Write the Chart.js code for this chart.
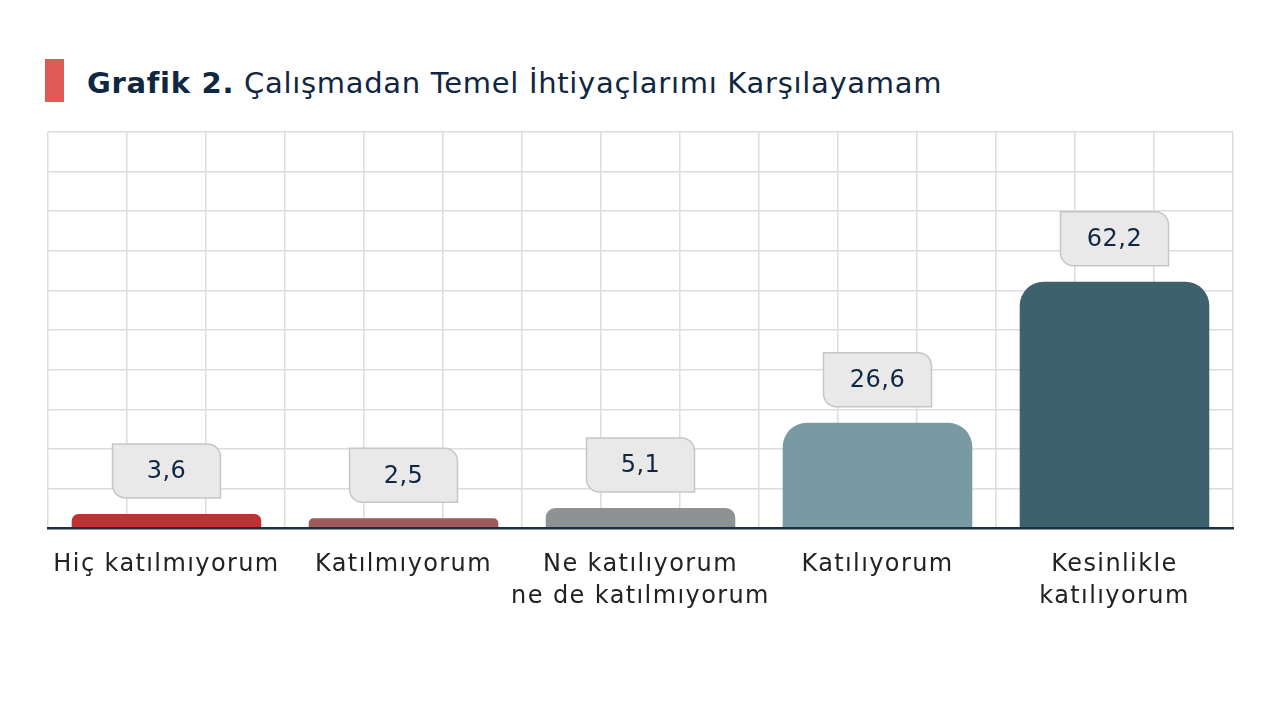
<!DOCTYPE html>
<html lang="tr">
<head>
<meta charset="utf-8">
<script src="https://cdn.jsdelivr.net/npm/chart.js@4.4.1/dist/chart.umd.min.js"></script>
<style>
   html, body { margin: 0; padding: 0; background: #ffffff; }
   #wrap { position: relative; width: 1280px; height: 720px; }
   #title {
      position: absolute; left: 87px; top: 66px;
      font-family: "DejaVu Sans", sans-serif; font-size: 29px; color: #0f2740;
      letter-spacing: 0.7px; white-space: nowrap;
   }
   #title b { font-weight: 700; }
   #mark { position: absolute; left: 45px; top: 59px; width: 19px; height: 43px; background: #e05a55; }
   canvas { position: absolute; left: 0; top: 0; }
</style>
</head>
<body>
<div id="wrap">
   <div id="mark"></div>
   <div id="title"><b>Grafik 2.</b> Çalışmadan Temel İhtiyaçlarımı Karşılayamam</div>
   <canvas id="chart" width="1280" height="720"></canvas>
</div>
<script>
const categories = [
   "Hiç katılmıyorum",
   "Katılmıyorum",
   ["Ne katılıyorum", "ne de katılmıyorum"],
   "Katılıyorum",
   ["Kesinlikle", "katılıyorum"],
];
const values = [3.6, 2.5, 5.1, 26.6, 62.2];
const barColors = ["#c03232", "#a05a5c", "#8f9192", "#799aa2", "#3e626d"];

const FONT = "'DejaVu Sans', sans-serif";

// wider letters for the axis labels, closer to the original font
const spacing = {
   id: "spacing",
   beforeUpdate(chart) {
      chart.ctx.letterSpacing = "1.4px";
   },
   beforeDraw(chart) {
      chart.ctx.letterSpacing = "1.4px";
   },
};

// draws the grey value boxes above each bar
const valueBoxes = {
   id: "valueBoxes",
   afterDatasetsDraw(chart) {
      const ctx = chart.ctx;
      const meta = chart.getDatasetMeta(0);
      ctx.save();
      ctx.letterSpacing = "0.5px";
      meta.data.forEach((bar, i) => {
         const w = 108;
         const h = 54;
         const x = bar.x - w / 2;
         const y = bar.y - 16 - h;
         ctx.beginPath();
         ctx.roundRect(x, y, w, h, [0, 13, 0, 13]);
         ctx.fillStyle = "#e9e9e9";
         ctx.fill();
         ctx.lineWidth = 1.5;
         ctx.strokeStyle = "#c6c6c6";
         ctx.stroke();
         ctx.fillStyle = "#0f2740";
         ctx.font = "24px " + FONT;
         ctx.textAlign = "center";
         ctx.textBaseline = "middle";
         ctx.fillText(values[i].toFixed(1).replace(".", ","), bar.x, y + h / 2 + 1);
      });
      ctx.restore();
   },
};

new Chart(document.getElementById("chart"), {
   type: "bar",
   data: {
      labels: categories,
      datasets: [
         {
            data: values,
            backgroundColor: barColors,
            borderRadius: { topLeft: 24, topRight: 24 },
            borderSkipped: "start",
            categoryPercentage: 1,
            barPercentage: 0.8,
         },
      ],
   },
   options: {
      responsive: false,
      animation: false,
      devicePixelRatio: 1,
      layout: { padding: { left: 48, right: 47, top: 132, bottom: 95 } },
      plugins: {
         legend: { display: false },
         tooltip: { enabled: false },
      },
      scales: {
         x: {
            grid: { display: false },
            border: { display: true, color: "#14304a", width: 2.5, z: 2 },
            ticks: {
               color: "#222222",
               font: { family: FONT, size: 24, lineHeight: 1.35 },
               padding: 12,
               maxRotation: 0,
               autoSkip: false,
            },
         },
         x2: {
            type: "linear",
            position: "top",
            min: 0,
            max: 15,
            offset: false,
            grid: { color: "#dcdce2", lineWidth: 1.5, drawTicks: false, offset: false },
            border: { display: false },
            ticks: { display: false, stepSize: 1 },
         },
         y: {
            min: 0,
            max: 100,
            grid: { color: "#dcdce2", lineWidth: 1.5, drawTicks: false },
            border: { display: false },
            ticks: { display: false, stepSize: 10 },
         },
      },
   },
   plugins: [spacing, valueBoxes],
});
</script>
</body>
</html>
